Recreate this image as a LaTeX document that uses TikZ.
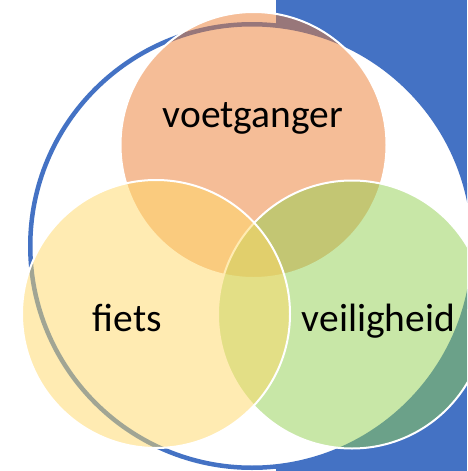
\documentclass[tikz,border=0pt]{standalone}
\usepackage{fontspec}
\setmainfont{Carlito}
\definecolor{offblue}{HTML}{4472C4}
\definecolor{vorange}{HTML}{ED7D31}
\definecolor{vgreen}{HTML}{92D050}
\definecolor{vyellow}{HTML}{FFD966}
\tikzset{
  venn/.style={circle, inner sep=0pt, outer sep=0pt, minimum size=#1, draw=white, line width=2pt, fill opacity=0.5, draw opacity=1},
  lbl/.style={anchor=base, font=\fontsize{39.5}{41}\selectfont, text=black, inner sep=0pt}
}
\begin{document}
\begin{tikzpicture}[x=1pt,y=-1pt]
\useasboundingbox (0,0) rectangle (467,471);
\clip (0,0) rectangle (467,471);
\fill[white] (0,0) rectangle (467,471);
\fill[offblue] (276,0) rectangle (467,471);
\node[circle, inner sep=0pt, outer sep=0pt, minimum size=443.5pt, fill=white, draw=offblue, line width=4.5pt] (outer) at (252,246) {};
\node[venn=266pt, fill=vorange] (ped) at (253.5,145) {};
\node[venn=268pt, fill=vgreen] (safe) at (352,314.5) {};
\node[venn=268pt, fill=vyellow] (bike) at (156,314) {};
\node[lbl] (tped) at (253,127.5) {voetganger};
\node[lbl] (tbike) at (127.5,331) {fiets};
\node[lbl] (tsafe) at (378.5,331) {veiligheid};
\end{tikzpicture}
\end{document}
